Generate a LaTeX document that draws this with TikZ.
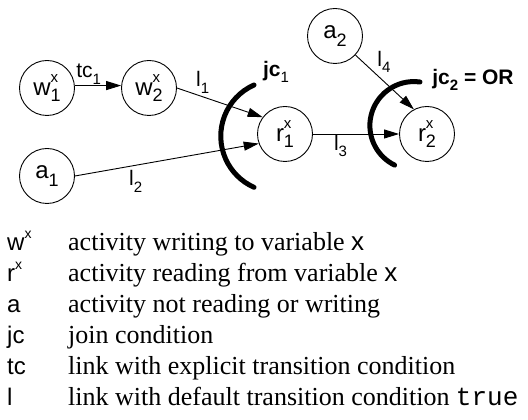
\documentclass[tikz,border=0pt]{standalone}
\usepackage{fontspec}
\setmainfont{Liberation Serif}
\setsansfont{Liberation Sans}
\setmonofont{Liberation Mono}
\usepackage{tikz}
\usetikzlibrary{arrows.meta}

\newcommand{\lsub}[1]{\raisebox{-0.3em}{\fontsize{15}{15}\selectfont #1}}
\newcommand{\lsup}[1]{\raisebox{0.5em}{\fontsize{14}{14}\selectfont #1}}
\newcommand{\act}[3]{#1\rlap{\raisebox{0.55em}{\fontsize{15}{15}\selectfont #2}}\raisebox{-0.25em}{\fontsize{18}{18}\selectfont #3}}

\begin{document}
\begin{tikzpicture}[x=1pt,y=1pt,
    activity/.style={circle,draw,line width=0.9pt,minimum size=55pt,inner sep=0pt,
        font=\sffamily\fontsize{24}{26}\selectfont},
    link/.style={line width=0.9pt,-{Triangle[length=15pt,width=9pt]}},
    linklabel/.style={font=\sffamily\fontsize{21}{24}\selectfont,inner sep=1pt},
    joinarc/.style={line width=5pt,line cap=round},
    joinlabel/.style={font=\sffamily\bfseries\fontsize{21}{24}\selectfont,inner sep=0pt},
    legsym/.style={anchor=base west,inner sep=0pt,font=\sffamily\fontsize{24}{26}\selectfont},
    legtext/.style={anchor=base west,inner sep=0pt,font=\fontsize{26}{30}\selectfont}]
    \useasboundingbox (0,0) rectangle (528,420);
    % activities
    \node [activity] (w1) at (47,332) {\act{w}{x}{1}};
    \node [activity] (w2) at (149,332) {\act{w}{x}{2}};
    \node [activity] (a1) at (47,244) {a\lsub{\fontsize{18}{18}\selectfont 1}};
    \node [activity] (r1) at (285,286) {\act{r}{x}{1}};
    \node [activity] (r2) at (427,286) {\act{r}{x}{2}};
    \node [activity] (a2) at (335,384) {a\lsub{\fontsize{18}{18}\selectfont 2}};
    % links
    \draw [link] (w1.5) -- (w2.175)
        node [linklabel,pos=0.3,above] (tc1) {tc\lsub{1}};
    \draw [link] (w2.east) -- (r1.143)
        node [linklabel,pos=0.3,above=2pt] (l1) {l\lsub{1}};
    \draw [link] (a1.east) -- (r1.200)
        node [linklabel,pos=0.33,below=4pt] (l2) {l\lsub{2}};
    \draw [link] (r1.east) -- (r2.west)
        node [linklabel,pos=0.32,below] (l3) {l\lsub{3}};
    \draw [link] (a2.-43) -- (r2.118)
        node [linklabel,pos=0.13,right=13pt] (l4) {l\lsub{4}};
    % join conditions
    \draw [joinarc] (r1) ++(-31,49) arc [start angle=114,end angle=246,radius=56];
    \draw [joinarc] (r2) ++(-7,52) arc [start angle=82,end angle=244,radius=44];
    \node [joinlabel] (jc1) at (276,348) {jc\lsub{\mdseries 1}};
    \node [joinlabel] (jc2) at (473,340) {jc\lsub{2} = OR};
    % legend
    \foreach \sym/\txt [count=\i] in {
        {w\lsup{x}}/{activity writing to variable \textsf{x}},
        {r\lsup{x}}/{activity reading from variable \textsf{x}},
        a/{activity not reading or writing},
        jc/{join condition},
        tc/{link with explicit transition condition},
        l/{link with default transition condition \texttt{true}}}{
        \node [legsym] (sym\i) at (7,{200-31*\i}) {\sym};
        \node [legtext] (txt\i) at (68,{200-31*\i}) {\txt};
    }
\end{tikzpicture}
\end{document}
